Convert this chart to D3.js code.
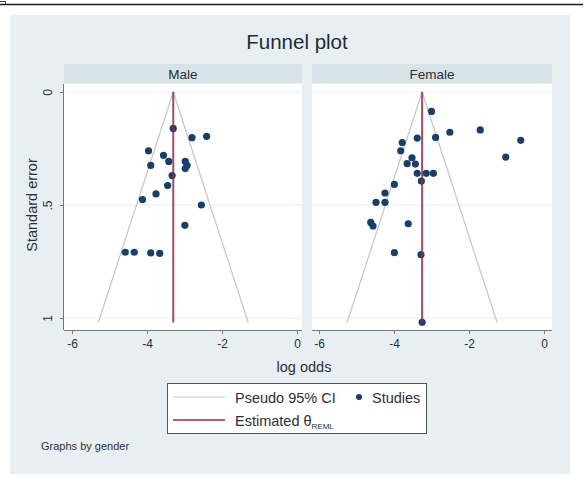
<!DOCTYPE html>
<html>
<head>
<meta charset="utf-8">
<script src="https://cdn.jsdelivr.net/npm/d3@7"></script>
<style>
body { margin:0; background:#fff; }
text { font-family: "Liberation Sans", Arial, sans-serif; fill:#2b2f36; }
</style>
</head>
<body>
<div id="chart"></div>
<script>
var w = 584, h = 482;

// study estimates
var maleLogOdds = [-3.30,-2.80,-2.41,-3.96,-3.56,-3.42,-2.98,-2.93,-2.98,-3.90,-3.33,-3.45,-3.76,-4.12,-2.55,-2.99,-4.58,-4.34,-3.90,-3.66];
var maleSE      = [0.161,0.202,0.196,0.260,0.280,0.307,0.307,0.325,0.339,0.325,0.370,0.414,0.451,0.476,0.500,0.590,0.709,0.709,0.712,0.714];
var femaleLogOdds = [-3.00,-1.70,-2.51,-0.62,-3.38,-2.89,-3.78,-3.82,-1.02,-3.52,-3.65,-3.43,-3.38,-3.14,-2.95,-3.27,-3.99,-4.24,-4.48,-4.24,-4.62,-4.56,-3.62,-3.99,-3.28,-3.25];
var femaleSE      = [0.086,0.168,0.178,0.214,0.204,0.201,0.224,0.260,0.288,0.291,0.317,0.319,0.360,0.360,0.360,0.394,0.409,0.447,0.488,0.488,0.577,0.593,0.583,0.711,0.720,1.019];
var genders = ["Male","Female"];
var thetaREML = [-3.30,-3.25];
var seMax = 1.02;
var xTicks = [-6,-4,-2,0];
var yTicks = [0,0.5,1];
var yTickLabels = ["0",".5","1"];

var panels = [
  {name: genders[0], x: maleLogOdds, se: maleSE, theta: thetaREML[0], left: 64, right: 302, x0: 72, x1: 297},
  {name: genders[1], x: femaleLogOdds, se: femaleSE, theta: thetaREML[1], left: 312, right: 552, x0: 319, x1: 544}
];
var plotTop = 84, plotBottom = 330;

var svg = d3.select("#chart").append("svg")
    .attr("width", w)
    .attr("height", h);

// screenshot frame bits
svg.append("line").attr("x1",0).attr("x2",583).attr("y1",4.5).attr("y2",4.5)
    .attr("stroke","#1a1a1a").attr("stroke-width",1.5);
svg.append("path").attr("d","M0,1.5 H5.5 V4").attr("fill","none").attr("stroke","#333").attr("stroke-width",1);

// graph background
svg.append("rect").attr("x",10).attr("y",15).attr("width",560).attr("height",459).attr("fill","#e8eff2");

svg.append("text").attr("x",297).attr("y",49).attr("text-anchor","middle")
    .style("font-size","20.5px").style("fill","#232b38").text("Funnel plot");

var y = d3.scaleLinear().domain([0,1]).range([92,318]);

panels.forEach(function(p, k) {
    var x = d3.scaleLinear().domain([-6,0]).range([p.x0, p.x1]);
    var g = svg.append("g");

    // strip
    g.append("rect").attr("x",p.left).attr("y",64).attr("width",p.right-p.left).attr("height",19).attr("fill","#d7e3e9");
    g.append("text").attr("x",(p.left+p.right)/2).attr("y",78.5).attr("text-anchor","middle")
        .style("font-size","13.5px").text(p.name);

    // plot region
    g.append("rect").attr("x",p.left).attr("y",plotTop).attr("width",p.right-p.left).attr("height",plotBottom-plotTop).attr("fill","#ffffff");

    // grid
    g.selectAll(".grid").data(yTicks).enter().append("line")
        .attr("x1",p.left).attr("x2",p.right)
        .attr("y1",function(d){return y(d);}).attr("y2",function(d){return y(d);})
        .attr("stroke","#e9f0f2").attr("stroke-width",1.2);

    // x axis
    var xa = g.append("g").attr("transform","translate(0,"+plotBottom+")")
        .call(d3.axisBottom(x).tickValues(xTicks).tickSize(4).tickFormat(d3.format("d")));
    xa.select(".domain").attr("d","M"+p.left+",0.5H"+p.right).attr("stroke","#777");
    xa.selectAll(".tick line").attr("stroke","#777");
    xa.selectAll(".tick text").attr("y",9).style("font-size","12px").style("font-family","Liberation Sans, Arial, sans-serif").attr("fill","#2b2f36")
        .text(function(d){ return d < 0 ? "-" + Math.abs(d) : d; });

    // y axis only on first panel
    if (k == 0) {
        var ya = g.append("g").attr("transform","translate("+p.left+",0)")
            .call(d3.axisLeft(y).tickValues(yTicks).tickSize(4).tickFormat(function(d,i){return yTickLabels[i];}));
        ya.select(".domain").attr("d","M-0.5,"+plotTop+"V"+plotBottom).attr("stroke","#777");
        ya.selectAll(".tick line").attr("stroke","#777");
        ya.selectAll(".tick text").attr("x",0).attr("y",0).attr("dy",0)
            .attr("transform","translate(-12,0) rotate(-90)")
            .attr("text-anchor","middle").style("font-size","12px").style("font-family","Liberation Sans, Arial, sans-serif").attr("fill","#2b2f36");
    }

    // pseudo 95% CI funnel
    var funnel = [[p.theta - 1.96*seMax, seMax],[p.theta, 0],[p.theta + 1.96*seMax, seMax]];
    g.append("path")
        .attr("d", d3.line().x(function(d){return x(d[0]);}).y(function(d){return y(d[1]);})(funnel))
        .attr("fill","none").attr("stroke","#c6c6c6").attr("stroke-width",1.2);

    // studies
    g.selectAll(".pt").data(p.x).enter().append("circle")
        .attr("cx",function(d){return x(d);})
        .attr("cy",function(d,i){return y(p.se[i]);})
        .attr("r",3.6)
        .attr("fill","#1a3f66");

    // estimated theta
    g.append("line")
        .attr("x1",x(p.theta)).attr("x2",x(p.theta))
        .attr("y1",y(0)).attr("y2",y(seMax))
        .attr("stroke","#8e2f45").attr("stroke-opacity",0.85).attr("stroke-width",2);
});

// axis titles
svg.append("text").attr("transform","translate(37,205) rotate(-90)").attr("text-anchor","middle")
    .style("font-size","14.5px").text("Standard error");
svg.append("text").attr("x",304).attr("y",372).attr("text-anchor","middle")
    .style("font-size","14.5px").text("log odds");

// legend
var lg = svg.append("g");
lg.append("rect").attr("x",167.5).attr("y",383.5).attr("width",259).attr("height",50)
    .attr("fill","#fff").attr("stroke","#555").attr("stroke-width",1);
lg.append("line").attr("x1",173).attr("x2",225).attr("y1",397).attr("y2",397).attr("stroke","#c6c6c6").attr("stroke-width",1.2);
lg.append("line").attr("x1",173).attr("x2",225).attr("y1",420).attr("y2",420).attr("stroke","#8e2f45").attr("stroke-width",1.6);
lg.append("text").attr("x",235).attr("y",402.5).style("font-size","14.5px").text("Pseudo 95% CI");
var est = lg.append("text").attr("x",235).attr("y",425.5).style("font-size","14.5px");
est.append("tspan").text("Estimated θ");
est.append("tspan").attr("dy",3).style("font-size","8px").text("REML");
lg.append("circle").attr("cx",359).attr("cy",397).attr("r",3).attr("fill","#1a3f66");
lg.append("text").attr("x",372).attr("y",402.5).style("font-size","14.5px").text("Studies");

svg.append("text").attr("x",41).attr("y",450).style("font-size","11px").text("Graphs by gender");
</script>
</body>
</html>
